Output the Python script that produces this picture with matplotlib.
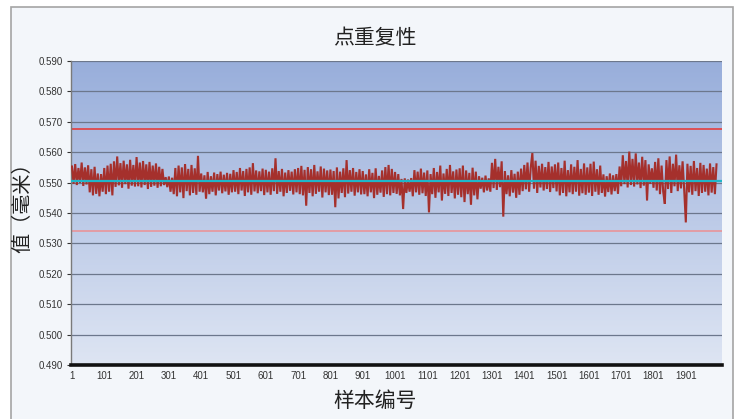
import numpy as np
import matplotlib
matplotlib.use("Agg")
import matplotlib.pyplot as plt
from matplotlib.patches import Rectangle

# ---- data (one value every 5 samples) ----
sample_step = 5
values = [
    # 1-100
    0.5553, 0.5496, 0.5561, 0.5492, 0.5548, 0.5499, 0.5566, 0.5489, 0.5550, 0.5494,
    0.5557, 0.5468, 0.5544, 0.5458, 0.5552, 0.5463, 0.5530, 0.5455, 0.5528, 0.5470,
    # 101-200
    0.5548, 0.5462, 0.5556, 0.5470, 0.5562, 0.5458, 0.5570, 0.5486, 0.5586, 0.5491,
    0.5564, 0.5483, 0.5572, 0.5495, 0.5560, 0.5480, 0.5575, 0.5490, 0.5558, 0.5487,
    # 201-300
    0.5584, 0.5488, 0.5566, 0.5484, 0.5571, 0.5492, 0.5560, 0.5479, 0.5568, 0.5486,
    0.5556, 0.5490, 0.5563, 0.5483, 0.5552, 0.5488, 0.5545, 0.5492, 0.5518, 0.5485,
    # 301-400
    0.5520, 0.5470, 0.5516, 0.5462, 0.5548, 0.5455, 0.5556, 0.5468, 0.5550, 0.5449,
    0.5561, 0.5472, 0.5545, 0.5458, 0.5558, 0.5466, 0.5547, 0.5460, 0.5588, 0.5470,
    # 401-500
    0.5530, 0.5468, 0.5524, 0.5447, 0.5535, 0.5462, 0.5521, 0.5470, 0.5533, 0.5458,
    0.5528, 0.5474, 0.5536, 0.5465, 0.5526, 0.5471, 0.5532, 0.5460, 0.5529, 0.5468,
    # 501-600
    0.5541, 0.5470, 0.5535, 0.5462, 0.5548, 0.5474, 0.5538, 0.5456, 0.5545, 0.5468,
    0.5550, 0.5460, 0.5564, 0.5471, 0.5540, 0.5465, 0.5537, 0.5472, 0.5546, 0.5459,
    # 601-700
    0.5542, 0.5468, 0.5536, 0.5460, 0.5547, 0.5472, 0.5580, 0.5463, 0.5538, 0.5470,
    0.5545, 0.5455, 0.5533, 0.5466, 0.5541, 0.5473, 0.5536, 0.5461, 0.5544, 0.5468,
    # 701-800
    0.5548, 0.5462, 0.5555, 0.5458, 0.5542, 0.5424, 0.5551, 0.5466, 0.5544, 0.5455,
    0.5558, 0.5463, 0.5537, 0.5470, 0.5553, 0.5451, 0.5546, 0.5468, 0.5540, 0.5459,
    # 801-900
    0.5543, 0.5460, 0.5538, 0.5419, 0.5550, 0.5448, 0.5536, 0.5466, 0.5547, 0.5452,
    0.5574, 0.5464, 0.5541, 0.5470, 0.5548, 0.5457, 0.5535, 0.5468, 0.5544, 0.5461,
    # 901-1000
    0.5538, 0.5462, 0.5527, 0.5455, 0.5544, 0.5468, 0.5532, 0.5449, 0.5547, 0.5460,
    0.5522, 0.5467, 0.5540, 0.5453, 0.5551, 0.5462, 0.5558, 0.5458, 0.5545, 0.5466,
    # 1001-1100
    0.5535, 0.5463, 0.5528, 0.5458, 0.5512, 0.5413, 0.5514, 0.5466, 0.5510, 0.5470,
    0.5515, 0.5455, 0.5541, 0.5468, 0.5536, 0.5460, 0.5546, 0.5465, 0.5533, 0.5456,
    # 1101-1200
    0.5540, 0.5402, 0.5528, 0.5462, 0.5548, 0.5450, 0.5535, 0.5468, 0.5556, 0.5441,
    0.5530, 0.5463, 0.5545, 0.5456, 0.5558, 0.5466, 0.5537, 0.5448, 0.5543, 0.5460,
    # 1201-1300
    0.5547, 0.5452, 0.5556, 0.5436, 0.5540, 0.5462, 0.5532, 0.5427, 0.5549, 0.5458,
    0.5536, 0.5445, 0.5521, 0.5480, 0.5516, 0.5468, 0.5523, 0.5474, 0.5514, 0.5470,
    # 1301-1400
    0.5565, 0.5482, 0.5578, 0.5476, 0.5552, 0.5485, 0.5570, 0.5388, 0.5538, 0.5462,
    0.5524, 0.5455, 0.5541, 0.5467, 0.5529, 0.5450, 0.5536, 0.5460, 0.5546, 0.5472,
    # 1401-1500
    0.5558, 0.5478, 0.5566, 0.5470, 0.5549, 0.5597, 0.5480, 0.5572, 0.5466, 0.5555,
    0.5484, 0.5562, 0.5474, 0.5551, 0.5479, 0.5568, 0.5469, 0.5553, 0.5482, 0.5560,
    # 1501-1600
    0.5471, 0.5566, 0.5458, 0.5548, 0.5466, 0.5572, 0.5455, 0.5541, 0.5468, 0.5560,
    0.5462, 0.5552, 0.5470, 0.5574, 0.5457, 0.5545, 0.5465, 0.5563, 0.5460, 0.5550,
    # 1601-1700
    0.5467, 0.5562, 0.5456, 0.5569, 0.5470, 0.5544, 0.5460, 0.5556, 0.5466, 0.5527,
    0.5454, 0.5521, 0.5469, 0.5530, 0.5461, 0.5524, 0.5472, 0.5528, 0.5463, 0.5553,
    # 1701-1800
    0.5488, 0.5590, 0.5495, 0.5571, 0.5484, 0.5602, 0.5492, 0.5578, 0.5487, 0.5596,
    0.5494, 0.5566, 0.5482, 0.5585, 0.5490, 0.5574, 0.5441, 0.5560, 0.5496, 0.5547,
    # 1801-1900
    0.5483, 0.5568, 0.5474, 0.5580, 0.5462, 0.5556, 0.5470, 0.5430, 0.5574, 0.5479,
    0.5586, 0.5466, 0.5562, 0.5488, 0.5592, 0.5472, 0.5557, 0.5481, 0.5570, 0.5476,
    # 1901-2000
    0.5369, 0.5562, 0.5468, 0.5555, 0.5460, 0.5571, 0.5472, 0.5548, 0.5456, 0.5565,
    0.5466, 0.5558, 0.5470, 0.5546, 0.5458, 0.5563, 0.5467, 0.5551, 0.5462, 0.5560,
]
samples = list(range(1, 1 + sample_step * len(values), sample_step))
center_line = 0.5506
upper_limit = 0.5676
lower_limit = 0.5342
y_ticks = [0.490, 0.500, 0.510, 0.520, 0.530, 0.540, 0.550, 0.560, 0.570, 0.580, 0.590]
x_ticks = [1, 101, 201, 301, 401, 501, 601, 701, 801, 901, 1001,
           1101, 1201, 1301, 1401, 1501, 1601, 1701, 1801, 1901]
title = "点重复性"
x_label = "样本编号"
y_label = "值（毫米）"

plt.rcParams['font.family'] = ['Noto Sans CJK SC', 'DejaVu Sans']

W, H = 740, 419
fig = plt.figure(figsize=(W / 100, H / 100), dpi=100)
fig.patch.set_facecolor('white')

# outer frame
frame = Rectangle((11 / W, -0.02), (733 - 11) / W, 1.02 - 7 / H,
                  transform=fig.transFigure, facecolor='#f3f6fa',
                  edgecolor='#a4a4a4', linewidth=1.2, zorder=-5)
fig.patches.append(frame)

left, right, top, bottom = 71 / W, 722 / W, 1 - 61 / H, 1 - 365 / H
ax = fig.add_axes([left, bottom, right - left, top - bottom])
ax.set_facecolor('none')

# gradient background
grad = np.linspace(0, 1, 256).reshape(-1, 1)
top_c = np.array([152, 174, 219]) / 255
bot_c = np.array([222, 229, 243]) / 255
img = top_c[None, None, :] * (1 - grad[:, :, None]) + bot_c[None, None, :] * grad[:, :, None]
ax.imshow(img, extent=[0, 1, 0, 1], transform=ax.transAxes, aspect='auto', zorder=0)

ax.set_xlim(-2, 2013)
ax.set_ylim(0.490, 0.590)

for yv in y_ticks[1:]:
    ax.axhline(yv, color='#6c778c', linewidth=0.9, zorder=1)

ax.axhline(upper_limit, color='#e0474a', linewidth=1.3, zorder=2)
ax.axhline(lower_limit, color='#ec8f93', linewidth=1.1, zorder=2)

ax.plot(samples, values, color='#a5302c', linewidth=1.5, zorder=3,
        solid_joinstyle='miter')
ax.axhline(center_line, color='#1fb6c9', linewidth=1.6, zorder=4)

ax.set_yticks(y_ticks)
ax.set_yticklabels([f"{v:.3f}" for v in y_ticks])
ax.set_xticks(x_ticks)
ax.set_xticklabels([str(v) for v in x_ticks])
ax.tick_params(axis='y', labelsize=7, colors='#333333', length=3, width=0.8,
               pad=3)
ax.tick_params(axis='x', labelsize=7, colors='#333333', length=0, pad=4)
for lab in ax.get_xticklabels() + ax.get_yticklabels():
    lab.set_family(['Liberation Sans', 'DejaVu Sans'])

for s in ['top', 'right']:
    ax.spines[s].set_visible(False)
ax.spines['left'].set_color('#7a7a7a')
ax.spines['left'].set_linewidth(1.0)
ax.spines['bottom'].set_color('#111111')
ax.spines['bottom'].set_linewidth(2.6)

fig.text(375 / W, 1 - 38 / H, title, ha='center', va='center', fontsize=15,
         color='#222222')
fig.text(375 / W, 1 - 401 / H, x_label, ha='center', va='center', fontsize=15,
         color='#222222')
fig.text(23 / W, 1 - 203 / H, y_label, ha='center', va='center', fontsize=14.5,
         rotation=90, color='#222222')

fig.savefig('out.png', dpi=100)
